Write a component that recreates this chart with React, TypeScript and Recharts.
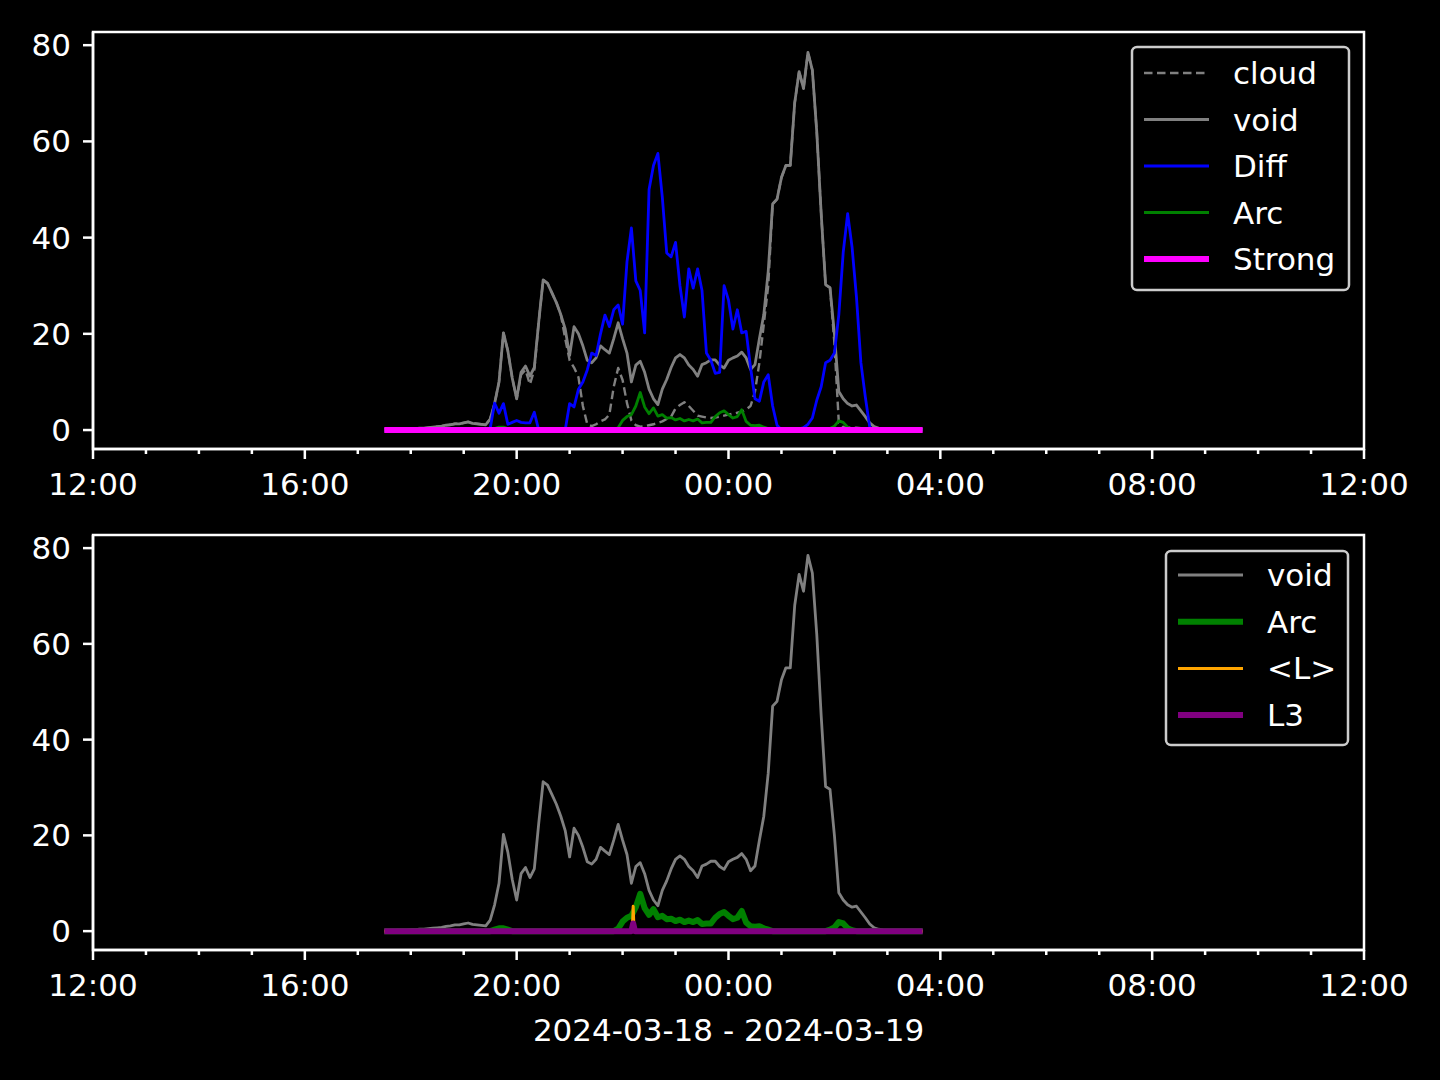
import React from 'react';
import { LineChart, Line, XAxis, YAxis, ReferenceArea } from 'recharts';

const FONT = "'DejaVu Sans', sans-serif";

// 5-minute samples, 2024-03-18 17:30 -> 2024-03-19 03:40
const times = [
  '17:30','17:35','17:40','17:45','17:50','17:55','18:00','18:05','18:10','18:15',
  '18:20','18:25','18:30','18:35','18:40','18:45','18:50','18:55','19:00','19:05',
  '19:10','19:15','19:20','19:25','19:30','19:35','19:40','19:45','19:50','19:55',
  '20:00','20:05','20:10','20:15','20:20','20:25','20:30','20:35','20:40','20:45',
  '20:50','20:55','21:00','21:05','21:10','21:15','21:20','21:25','21:30','21:35',
  '21:40','21:45','21:50','21:55','22:00','22:05','22:10','22:15','22:20','22:25',
  '22:30','22:35','22:40','22:45','22:50','22:55','23:00','23:05','23:10','23:15',
  '23:20','23:25','23:30','23:35','23:40','23:45','23:50','23:55','00:00','00:05',
  '00:10','00:15','00:20','00:25','00:30','00:35','00:40','00:45','00:50','00:55',
  '01:00','01:05','01:10','01:15','01:20','01:25','01:30','01:35','01:40','01:45',
  '01:50','01:55','02:00','02:05','02:10','02:15','02:20','02:25','02:30','02:35',
  '02:40','02:45','02:50','02:55','03:00','03:05','03:10','03:15','03:20','03:25',
  '03:30','03:35','03:40',
];

const voidValues = [
  0.1,0.1,0.1,0.2,0.2,0.2,0.3,0.3,0.4,0.4,
  0.5,0.6,0.7,0.8,1.0,1.1,1.3,1.3,1.5,1.7,
  1.4,1.3,1.2,1.1,2.3,5.5,10,20.2,16.5,10.8,
  6.5,12,13.3,11.2,13,22.5,31.2,30.5,28.5,26.5,
  24,21,15.5,21.5,20,17.5,14.5,14,15,17.5,
  16.7,16,19,22.3,19,16,10,13.5,14.3,12,
  8.5,6.5,5.3,8.5,10.5,13,15,15.7,15,13.5,
  12.6,11.2,13.6,14,14.6,14.6,13.5,12.9,14.5,15,
  15.4,16.2,15,12.6,13.6,19,24,33,47,48,
  52.5,55,55,68,74.5,71,78.5,74.8,62,45,
  30.2,29.6,20,8,6.5,5.5,5,5.2,4,2.8,
  1.5,0.7,0.4,0.2,0.1,0.1,0.1,0.1,0.1,0.1,
  0.1,0.1,0.1,
];

const cloudValues = [
  0.1,0.1,0.1,0.2,0.2,0.2,0.3,0.3,0.4,0.4,
  0.5,0.6,0.7,0.8,1.0,1.1,1.3,1.3,1.5,1.7,
  1.4,1.3,1.2,1.1,2.3,5.5,10,20.2,16.5,10.8,
  6.5,11.5,12.5,9.5,12.5,22.5,31.2,30.5,28.5,26.5,
  24,19,14.5,13,11,5,1.2,0.8,1.2,1.8,
  2.2,3.2,9,12.9,10.4,5.6,2,1,0.7,0.8,
  1,1.2,1.5,1.8,2.3,2.8,4.5,5.2,5.8,5,
  4,3,2.8,2.6,2.5,2.6,2.8,3,3.2,3.4,
  3.6,3.8,4.3,5,8,14,22,30,47,48,
  52.5,55,55,68,74.5,71,78.5,74.8,62,45,
  30.2,29.6,18,1.5,0.6,0.5,0.5,0.5,0.4,0.4,
  0.3,0.2,0.2,0.1,0.1,0.1,0.1,0.1,0.1,0.1,
  0.1,0.1,0.1,
];

const diffValues = [
  0,0,0,0,0,0,0,0,0,0,
  0,0,0,0,0,0,0,0,0,0,
  0,0,0,0,0.3,5.6,3.5,5.5,1.2,1.6,
  2,1.6,1.5,1.5,3.7,0,0,0,0,0,
  0,0,5.5,4.8,8.5,10,12.5,16,15.5,20,
  23.9,21.5,25,26,22,35,42,31,29,20.2,
  50,55,57.5,48.4,36.8,36,39,30,23.5,33.5,
  29.5,33.5,29,16,14.5,11.8,12,30,27,21,
  25,20.2,20.5,13,6.5,6,10,11.5,5,1,
  0,0,0,0,0.2,0.5,1.2,2.5,6.2,9,
  14,14.5,16,24,37,45,38,27.6,14,6.9,
  0.6,0,0,0,0,0,0,0,0,0,
  0,0,0,
];

const arcValues = [
  0,0,0,0,0,0,0,0,0,0,
  0,0,0,0,0,0,0,0,0,0,
  0,0,0,0,0,0.3,0.6,0.6,0.3,0,
  0,0,0,0,0,0,0,0,0,0,
  0,0,0,0,0,0,0,0,0,0,
  0,0,0,0.5,2,2.8,3.2,5,7.8,4.8,
  3.4,4.6,2.9,3.2,2.5,2.6,2.1,2.4,1.9,2.2,
  1.9,2.3,1.5,1.6,1.6,2.8,3.6,4,3.2,2.5,
  2.8,4.2,1.8,1,0.9,1,0.6,0.3,0,0,
  0,0,0,0,0,0,0,0,0,0,
  0,0.3,0.8,1.9,1.6,0.6,0.2,0,0,0,
  0,0,0,0,0,0,0,0,0,0,
  0,0,0,
];

const strongTimes = ['17:30', '03:40'];
const strongValues = [0, 0];

const lTimes = ['17:30', '22:11', '22:12', '22:13', '03:40'];
const lValues = [0, 0, 5.2, 0, 0];

const l3Times = ['17:30', '22:10', '22:12', '22:14', '03:40'];
const l3Values = [0, 0, 1.6, 0, 0];

const yTicks = [0, 20, 40, 60, 80];
const xTicks = [0,1,2,3,4,5,6,7,8,9,10,11,12,13,14,15,16,17,18,19,20,21,22,23,24];
const dateLabel = '2024-03-18 - 2024-03-19';

function toHours(s: string): number {
  const [H, M] = s.split(':').map(Number);
  let h = H + M / 60;
  if (h < 12) h += 24;
  return h - 12;
}

function series(ts: string[], vals: number[]) {
  return ts.map((s, i) => ({ t: toHours(s), v: vals[i] }));
}

const topSeries = [
  { name: 'cloud', data: series(times, cloudValues), color: '#808080', width: 2.4, dash: '8.5 4.5' },
  { name: 'void', data: series(times, voidValues), color: '#808080', width: 2.8 },
  { name: 'Diff', data: series(times, diffValues), color: '#0000ff', width: 2.8 },
  { name: 'Arc', data: series(times, arcValues), color: '#008000', width: 2.8 },
  { name: 'Strong', data: series(strongTimes, strongValues), color: '#ff00ff', width: 6 },
];

const bottomSeries = [
  { name: 'void', data: series(times, voidValues), color: '#808080', width: 2.8 },
  { name: 'Arc', data: series(times, arcValues), color: '#008000', width: 6 },
  { name: '<L>', data: series(lTimes, lValues), color: '#ffa500', width: 3 },
  { name: 'L3', data: series(l3Times, l3Values), color: '#800080', width: 6 },
];

const Y_DOMAIN: [number, number] = [-3.94, 82.74];
const X_DOMAIN: [number, number] = [0, 24];

const XTick = (props: any) => {
  const { x, y, payload } = props;
  const v = payload.value as number;
  const major = v % 4 === 0;
  const hh = (12 + v) % 24;
  const label = (hh < 10 ? '0' : '') + hh + ':00';
  return (
    <g>
      <line x1={x} x2={x} y1={y} y2={y + (major ? 10 : 5)} stroke="#fff" strokeWidth={2.5} />
      {major && (
        <text x={x} y={y + 46} textAnchor="middle" fill="#fff" fontSize={31} fontFamily={FONT}>
          {label}
        </text>
      )}
    </g>
  );
};

function Panel({ seriesList, height, marginTop, xAxisHeight }: any) {
  return (
    <LineChart
      width={1440}
      height={height}
      margin={{ top: marginTop, right: 76, bottom: 0, left: 0 }}
      style={{ background: '#000' }}
    >
      <XAxis
        dataKey="t"
        type="number"
        domain={X_DOMAIN}
        ticks={xTicks}
        interval={0}
        height={xAxisHeight}
        tickSize={0}
        tickMargin={0}
        tickLine={false}
        tick={<XTick />}
        axisLine={{ stroke: '#fff', strokeWidth: 2.5 }}
        allowDataOverflow
      />
      <YAxis
        type="number"
        domain={Y_DOMAIN}
        ticks={yTicks}
        interval={0}
        width={93}
        tickSize={10}
        tickMargin={12}
        allowDataOverflow
        tickLine={{ stroke: '#fff', strokeWidth: 2.5 }}
        axisLine={{ stroke: '#fff', strokeWidth: 2.5 }}
        tick={{ fill: '#fff', fontSize: 31, fontFamily: FONT }}
      />
      <ReferenceArea
        x1={X_DOMAIN[0]}
        x2={X_DOMAIN[1]}
        y1={Y_DOMAIN[0]}
        y2={Y_DOMAIN[1]}
        fill="none"
        fillOpacity={0}
        stroke="#fff"
        strokeWidth={2.5}
        ifOverflow="visible"
      />
      {seriesList.map((s: any) => (
        <Line
          key={s.name}
          data={s.data}
          dataKey="v"
          name={s.name}
          type="linear"
          stroke={s.color}
          strokeWidth={s.width}
          strokeDasharray={s.dash}
          strokeLinejoin="round"
          dot={false}
          activeDot={false}
          isAnimationActive={false}
        />
      ))}
    </LineChart>
  );
}

function LegendBox({ x, y, w, h, rowY0, rowGap, lineX1, lineX2, textX, entries }: any) {
  return (
    <g>
      <rect x={x} y={y} width={w} height={h} rx={5} ry={5} fill="#000" stroke="#cccccc" strokeWidth={2.5} />
      {entries.map((e: any, i: number) => {
        const ry = rowY0 + i * rowGap;
        return (
          <g key={e.name}>
            <line x1={lineX1} x2={lineX2} y1={ry} y2={ry} stroke={e.color} strokeWidth={e.width} strokeDasharray={e.dash} />
            <text x={textX} y={ry + 11} fill="#fff" fontSize={31} fontFamily={FONT}>
              {e.name}
            </text>
          </g>
        );
      })}
    </g>
  );
}

export default function App() {
  return (
    <div style={{ position: 'fixed', left: 0, top: 0, width: 1440, height: 1080, background: '#000', overflow: 'hidden' }}>
      <div style={{ position: 'absolute', left: 0, top: 0 }}>
        <Panel seriesList={topSeries} height={540} marginTop={32} xAxisHeight={91} />
      </div>
      <div style={{ position: 'absolute', left: 0, top: 500 }}>
        <Panel seriesList={bottomSeries} height={580} marginTop={35} xAxisHeight={130} />
      </div>
      <svg width={1440} height={1080} style={{ position: 'absolute', left: 0, top: 0, pointerEvents: 'none' }}>
        <LegendBox x={1132} y={47} w={217} h={243} rowY0={73} rowGap={46.5} lineX1={1144} lineX2={1209} textX={1233} entries={topSeries} />
        <LegendBox x={1166} y={551} w={182} h={194} rowY0={575} rowGap={46.7} lineX1={1178} lineX2={1243} textX={1267} entries={bottomSeries} />
        <text x={728.5} y={1041} textAnchor="middle" fill="#fff" fontSize={31} fontFamily={FONT}>
          {dateLabel}
        </text>
      </svg>
    </div>
  );
}
